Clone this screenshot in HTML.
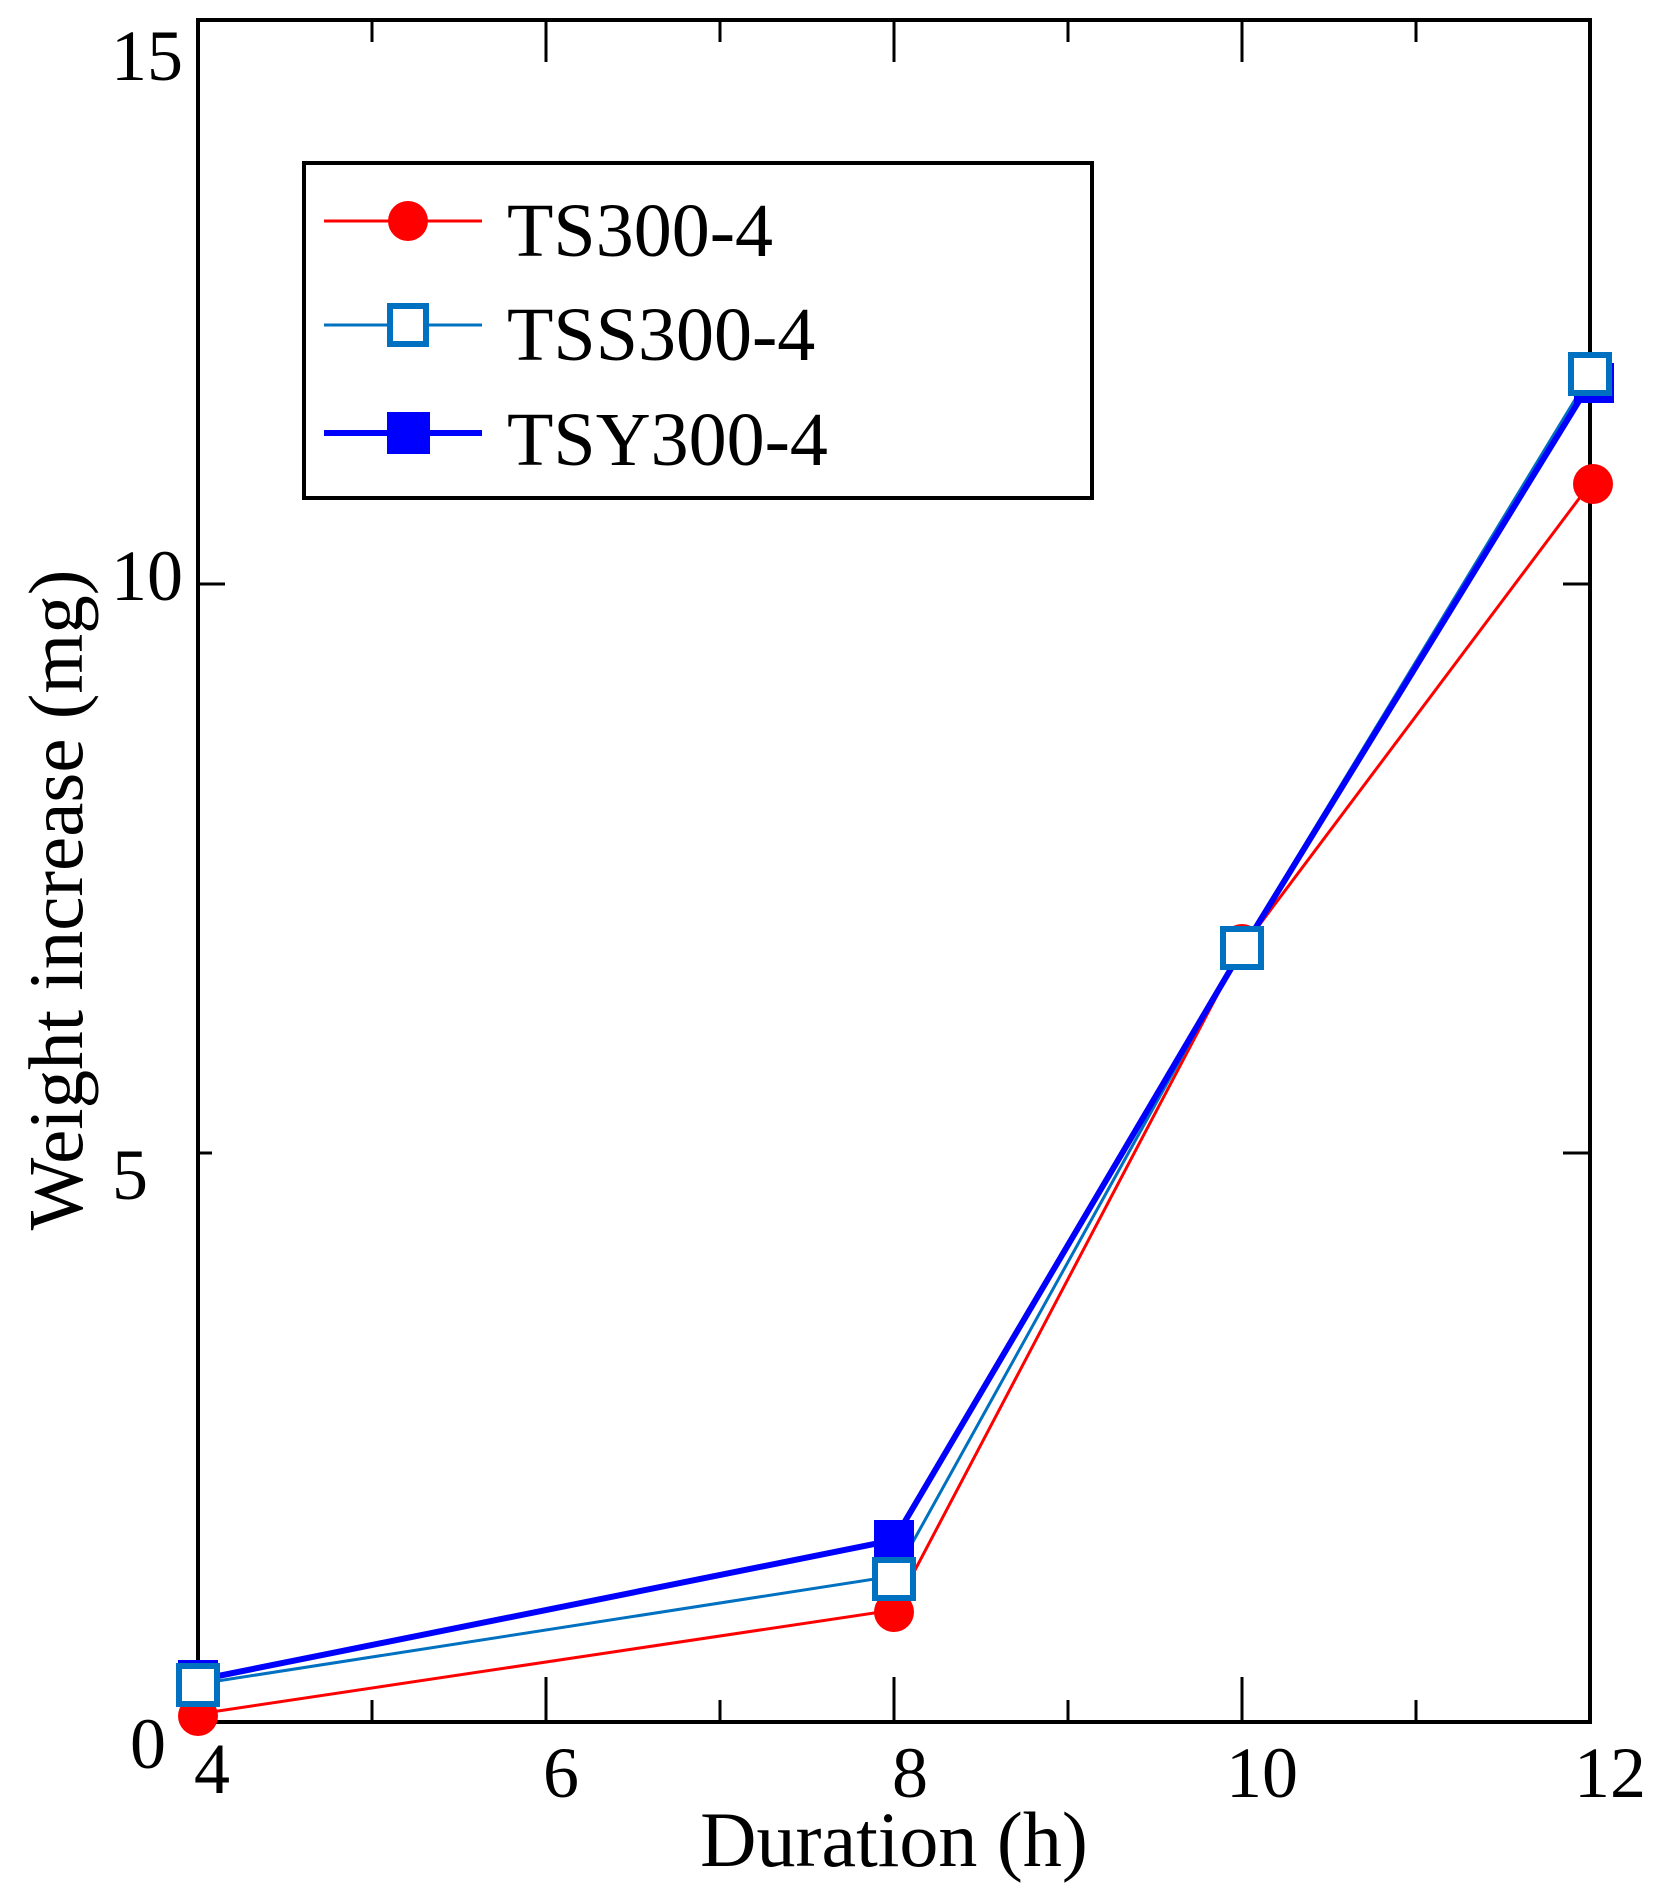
<!DOCTYPE html>
<html><head><meta charset="utf-8"><style>
html,body{margin:0;padding:0;background:#fff;}
svg{display:block;}
text{font-family:"Liberation Serif",serif;fill:#000;}
</style></head><body>
<svg width="1663" height="1898" viewBox="0 0 1663 1898" xmlns="http://www.w3.org/2000/svg">
<rect x="198" y="20" width="1392" height="1702" fill="none" stroke="#000" stroke-width="4"/>
<g stroke="#000" stroke-width="3">
<line x1="372" y1="1722" x2="372" y2="1700"/><line x1="372" y1="20" x2="372" y2="42"/>
<line x1="546" y1="1722" x2="546" y2="1677"/><line x1="546" y1="20" x2="546" y2="62"/>
<line x1="720" y1="1722" x2="720" y2="1700"/><line x1="720" y1="20" x2="720" y2="42"/>
<line x1="894" y1="1722" x2="894" y2="1677"/><line x1="894" y1="20" x2="894" y2="62"/>
<line x1="1068" y1="1722" x2="1068" y2="1700"/><line x1="1068" y1="20" x2="1068" y2="42"/>
<line x1="1242" y1="1722" x2="1242" y2="1677"/><line x1="1242" y1="20" x2="1242" y2="62"/>
<line x1="1416" y1="1722" x2="1416" y2="1700"/><line x1="1416" y1="20" x2="1416" y2="42"/>
<line x1="198" y1="584" x2="225" y2="584"/><line x1="1590" y1="584" x2="1563" y2="584"/>
<line x1="198" y1="1153" x2="212" y2="1153"/><line x1="1590" y1="1153" x2="1563" y2="1153"/>
</g>
<g font-size="72" text-anchor="end">
<text x="183" y="80">15</text>
<text x="183" y="600">10</text>
<text x="148" y="1199">5</text>
<text x="166" y="1768">0</text>
</g>
<g font-size="72" text-anchor="middle">
<text x="212" y="1793">4</text>
<text x="561" y="1797">6</text>
<text x="910" y="1797">8</text>
<text x="1262" y="1797">10</text>
<text x="1610" y="1797">12</text>
</g>
<text x="894" y="1866" font-size="78" text-anchor="middle">Duration (h)</text>
<text transform="translate(82,900) rotate(-90)" font-size="77" text-anchor="middle">Weight increase (mg)</text>

<polyline points="198,1714 894,1610 1242,948 1590,484" fill="none" stroke="#ff0000" stroke-width="3"/>
<polyline points="198,1684 894,1576 1242,948 1590,375" fill="none" stroke="#0070c0" stroke-width="3"/>
<polyline points="198,1680 894,1540 1242,950 1590,383" fill="none" stroke="#0000ff" stroke-width="6"/>
<g fill="#ff0000">
<circle cx="198" cy="1716" r="20"/><circle cx="894" cy="1612" r="20"/>
<circle cx="1242" cy="944" r="20"/><circle cx="1593" cy="484" r="20"/>
</g>
<g fill="#0000ff">
<rect x="178" y="1660" width="40" height="40"/><rect x="874" y="1520" width="40" height="40"/>
<rect x="1222" y="930" width="40" height="40"/><rect x="1574" y="363" width="40" height="40"/>
</g>
<g fill="#fff" stroke="#0070c0" stroke-width="6">
<rect x="179" y="1666" width="38" height="38"/><rect x="875" y="1560" width="38" height="38"/>
<rect x="1223" y="929" width="38" height="38"/><rect x="1571" y="355" width="38" height="38"/>
</g>

<rect x="304" y="163" width="788" height="335" fill="#fff" stroke="#000" stroke-width="4"/>
<line x1="324" y1="221" x2="482" y2="221" stroke="#ff0000" stroke-width="3"/>
<ellipse cx="408" cy="221" rx="20" ry="20" fill="#ff0000"/>
<line x1="324" y1="325" x2="482" y2="325" stroke="#0070c0" stroke-width="3"/>
<rect x="390" y="306" width="36" height="38" fill="#fff" stroke="#0070c0" stroke-width="6"/>
<line x1="324" y1="433" x2="482" y2="433" stroke="#0000ff" stroke-width="6"/>
<rect x="387" y="412" width="43" height="42" fill="#0000ff"/>
<g font-size="76">
<text x="507" y="256">TS300-4</text>
<text x="507" y="360">TSS300-4</text>
<text x="507" y="465">TSY300-4</text>
</g>
</svg>
</body></html>
